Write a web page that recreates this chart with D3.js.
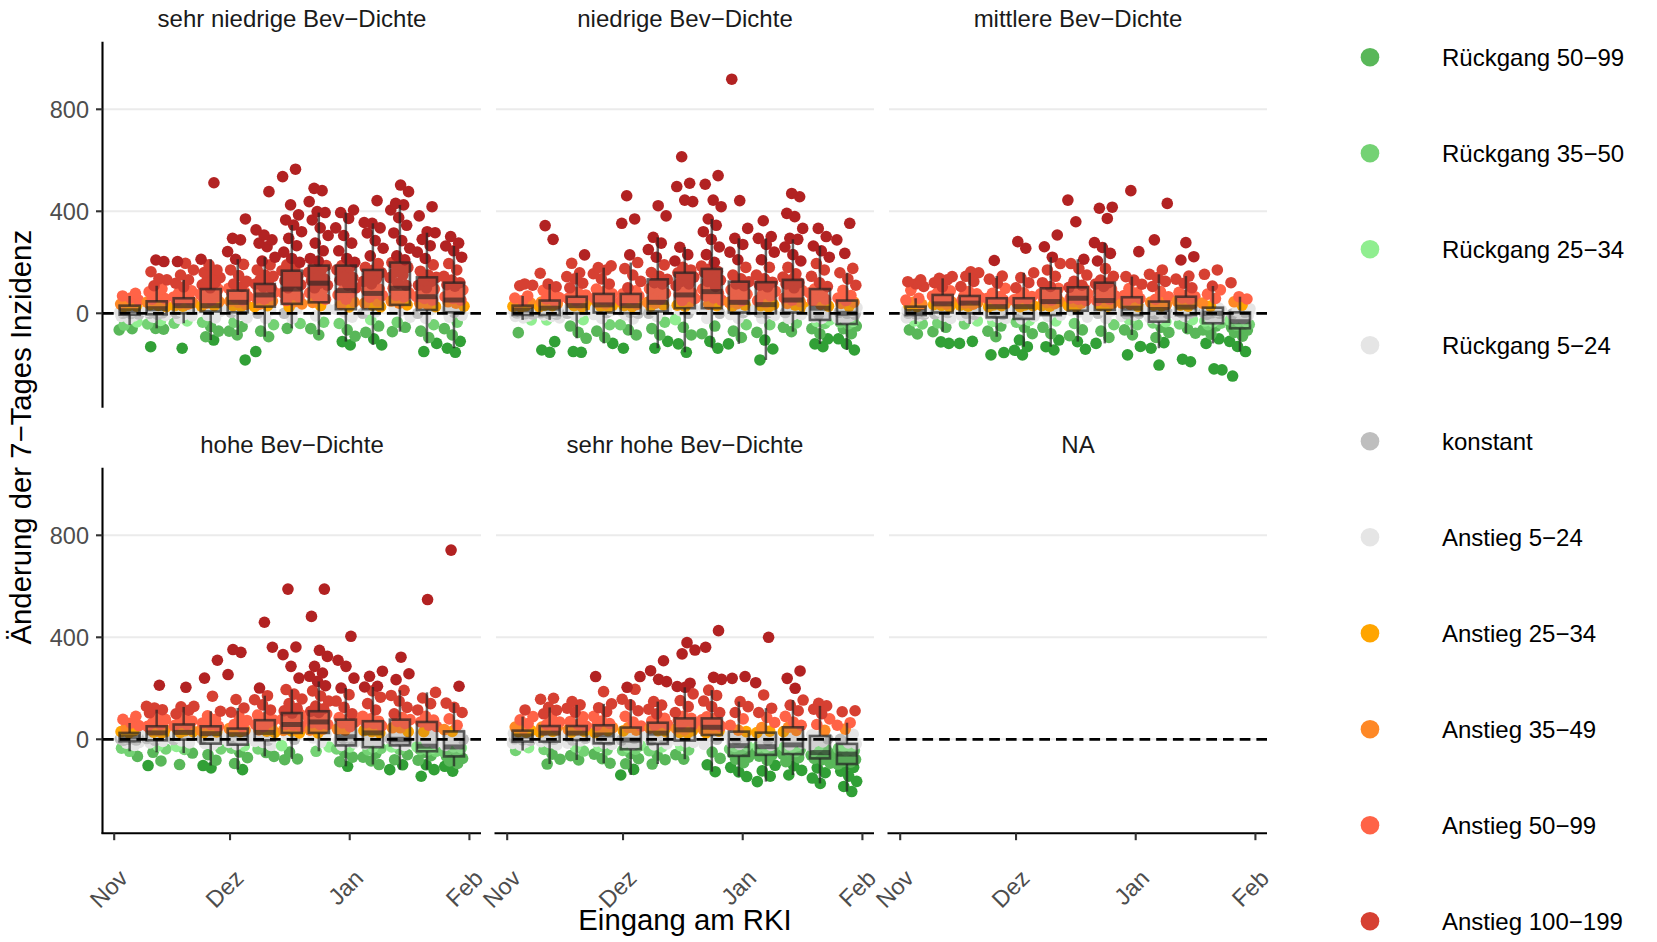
<!DOCTYPE html>
<html><head><meta charset="utf-8">
<script src="https://cdn.jsdelivr.net/npm/d3@7"></script>
<style>
body{margin:0;background:#fff}
svg{display:block}
text{font-family:"Liberation Sans",Arial,Helvetica,sans-serif}
</style>
</head><body>
<svg id="chart" width="1657" height="942"></svg>
<script>
// ---------------- data ----------------
const facetNames = ["sehr niedrige Bev\u2212Dichte","niedrige Bev\u2212Dichte","mittlere Bev\u2212Dichte",
                    "hohe Bev\u2212Dichte","sehr hohe Bev\u2212Dichte","NA"];
const weeks = ["2020-11-05","2020-11-12","2020-11-19","2020-11-26","2020-12-03","2020-12-10","2020-12-17",
               "2020-12-24","2020-12-31","2021-01-07","2021-01-14","2021-01-21","2021-01-28"];
const xTickDates = ["2020-11-01","2020-12-01","2021-01-01","2021-02-01"];
const xTickLabels = ["Nov","Dez","Jan","Feb"];
const yTicks = [0, 400, 800];
const legendLabels = ["R\u00fcckgang 50\u221299","R\u00fcckgang 35\u221250","R\u00fcckgang 25\u221234","R\u00fcckgang 5\u221224",
                      "konstant","Anstieg 5\u221224","Anstieg 25\u221234","Anstieg 35\u221249","Anstieg 50\u221299","Anstieg 100\u2212199"];
const legendColors = ["#59b759","#74d274","#90ee90","#e5e5e5","#bebebe","#e5e5e5","#ffa500","#fe8826","#ff6347","#d64032"];
// class borders of the change (Rückgang < 0 < Anstieg)
const classBreaks = [-99.5,-49.5,-34.5,-24.5,-4.5,4.5,24.5,34.5,49.5,99.5,199.5];
const classColors = ["#31a036","#59b759","#74d274","#90ee90","#e5e5e5","#bebebe","#e5e5e5","#ffa500","#fe8826","#ff6347","#d64032","#b22222"];

// box stats per week: [lower whisker, q1, median, q3, upper whisker]
const boxSehrNiedrig = [[-46,-6,10,30,68],[-59,-4,18,47,108],[-39,0,30,59,131],[-105,7,30,95,212],[-85,4,43,89,212],
  [-92,26,72,115,220],[-59,37,95,167,346],[-85,43,118,187,395],[-111,16,89,187,395],[-124,16,78,170,353],
  [-72,33,98,199,425],[-118,13,65,141,316],[-137,4,52,120,264]];
const boxNiedrig = [[-26,-7,13,30,68],[-26,-7,20,50,115],[-98,0,30,65,159],[-118,3,33,76,179],[-85,0,30,76,199],
  [-137,7,43,133,298],[-153,20,72,159,259],[-137,20,85,174,370],[-120,3,43,124,294],[-183,0,34,122,294],
  [-72,3,52,131,290],[-120,-26,20,95,264],[-144,-42,0,50,159]];
const boxMittlere = [[-42,-7,7,26,59],[-72,3,37,72,137],[-42,0,40,68,159],[-92,-16,26,59,146],[-131,-22,26,59,159],
  [-131,-7,46,98,220],[-111,10,59,102,212],[-118,13,50,120,277],[-85,-7,20,63,144],[-137,-33,15,46,153],
  [-78,-7,24,65,146],[-118,-39,0,22,107],[-150,-59,-33,4,65]];
const boxHohe = [[-47,-8,9,25,64],[-51,-4,25,51,116],[-54,-1,27,58,127],[-103,-17,22,51,110],[-119,-21,18,42,123],
  [-67,-4,27,75,171],[-77,25,58,103,195],[-47,25,68,110,227],[-106,-24,10,77,201],[-99,-31,25,71,205],
  [-119,-24,0,77,192],[-119,-47,-27,68,184],[-106,-67,-30,31,142]];
const boxSehrHohe = [[-44,-9,13,34,89],[-97,-9,24,52,125],[-81,-3,24,52,135],[-94,-16,17,55,139],[-140,-39,-3,46,157],
  [-97,-18,24,65,148],[-78,-5,37,82,204],[-127,17,47,82,193],[-146,-65,-25,30,148],[-166,-61,-29,26,122],
  [-140,-58,-22,47,154],[-173,-75,-52,13,131],[-205,-97,-58,-18,65]];

// district values per week
const ptsSehrNiedrig = [
[-65,-60,-46,-34,-22,-12,-6,-3,0,3,6,8,10,12,15,18,22,26,30,36,44,52,60,68,78],
[-131,-62,-59,-42,-28,-14,-4,0,4,8,12,15,18,22,26,31,36,41,47,58,70,84,96,108,131,135,163,203,209],
[-137,-39,-30,-20,-10,0,5,11,17,23,30,36,42,48,54,59,72,88,104,118,131,150,170,196,203],
[-105,-92,-70,-52,-35,-18,7,12,18,24,30,40,52,60,65,75,80,95,112,130,140,150,160,170,190,212,512],
[-183,-85,-70,-52,-35,-18,4,10,18,27,35,43,52,62,72,80,89,105,125,148,170,192,212,242,288,294,370],
[-150,-92,-70,-45,-20,0,12,26,36,48,60,72,82,92,104,115,132,150,170,190,205,220,261,275,288,307,327,477],
[-59,-40,-20,0,18,37,50,64,80,95,112,128,145,167,190,215,240,265,294,320,346,366,386,425,536,565],
[-85,-60,-35,-10,15,43,62,80,100,118,135,152,170,187,215,245,275,305,335,366,395,399,438,481,490],
[-124,-111,-90,-65,-40,-15,16,35,55,72,89,110,130,150,170,187,215,245,275,305,335,372,395,405],
[-124,-100,-75,-50,-25,0,16,32,48,63,78,95,115,135,152,170,195,225,255,285,315,335,353,356,442],
[-72,-55,-35,-15,10,33,48,64,80,98,118,140,160,180,199,225,255,285,315,345,375,405,425,431,477,503],
[-150,-118,-95,-70,-45,-20,13,26,39,52,65,80,95,110,125,141,165,190,215,240,265,290,316,320,382,418],
[-153,-137,-110,-85,-60,-35,-15,4,16,28,40,52,65,78,92,106,120,145,170,195,220,245,264,275,301]];
const morePtsSehrNiedrig = [
[-10,-1,4,9,14,20,28,40],[-8,2,10,16,24,34,44,55],[-5,8,20,28,38,50,64,80],[-8,15,28,45,70,88,100,120],
[-5,15,30,48,66,84,98,115],[15,30,55,68,88,100,125,145],[25,45,72,100,120,150,175,200],[30,55,90,110,128,160,180,205],
[5,25,45,80,100,140,180,200],[5,25,40,70,90,125,160,180],[20,40,70,90,110,150,190,210],[0,20,35,58,72,100,130,150],
[-8,10,22,45,58,85,112,130]];
const ptsNiedrig = [
[-76,-26,-18,-12,-7,-3,1,5,9,13,17,21,25,30,40,50,60,68,108,110,115],
[-153,-144,-111,-26,-18,-12,-7,-1,5,10,15,20,26,32,38,44,50,62,76,90,104,115,157,290,344],
[-153,-150,-98,-75,-50,-25,0,8,15,22,30,37,44,51,58,65,82,100,118,135,144,159,196,229],
[-118,-95,-70,-45,-20,3,10,18,25,33,42,51,60,68,76,95,115,135,155,170,179,186],
[-137,-85,-65,-45,-22,0,8,15,22,30,40,50,60,68,76,100,125,150,175,199,229,353,370,461],
[-137,-110,-85,-60,-35,-12,7,15,24,33,43,60,78,96,115,133,160,190,220,250,275,298,382,422],
[-153,-120,-85,-55,-25,0,20,32,45,58,72,90,108,125,142,159,180,205,230,259,438,444,497,510,614],
[-137,-110,-80,-50,-20,0,20,36,52,68,85,105,125,145,160,174,200,230,260,290,320,345,370,418,444,506,540],
[-120,-95,-70,-45,-20,3,12,22,32,43,58,75,92,108,124,150,180,210,240,270,294,333,442,918],
[-183,-140,-105,-75,-45,-20,0,8,16,25,34,50,68,86,104,122,150,180,210,240,270,294,301,363],
[-72,-55,-38,-20,-5,3,14,26,39,52,68,84,100,115,131,155,180,205,230,260,290,294,333,379,392,457,470],
[-131,-120,-100,-80,-60,-40,-26,-15,-4,8,20,35,50,65,80,95,120,145,170,195,220,245,264,301,333],
[-144,-120,-100,-80,-60,-42,-32,-22,-12,-4,0,8,18,28,39,50,70,90,110,135,159,176,235,288,353]];
const morePtsNiedrig = [
[-10,-2,3,8,14,19,27,35],[-4,2,8,14,22,30,40,56],[-8,5,12,26,34,48,60,72],[-5,6,14,28,38,55,72,85],
[-6,4,12,26,35,55,70,88],[0,12,28,40,55,90,120,145],[10,28,50,66,80,115,150,170],[10,30,60,78,95,130,165,185],
[-5,8,28,38,50,85,115,135],[-8,4,20,30,42,75,110,135],[-5,10,32,46,60,90,120,142],[-32,-20,-8,14,28,55,85,105],
[-50,-36,-18,-6,4,22,44,60]];
const ptsMittlere = [
[-81,-65,-42,-30,-18,-7,-3,0,3,7,11,15,19,22,26,35,44,52,59,90,105,115,124,131],
[-118,-112,-72,-55,-38,-20,-8,3,10,18,25,31,37,45,52,58,65,72,88,104,120,131,137,144],
[-118,-110,-42,-30,-18,-8,0,8,16,24,32,40,46,52,58,63,68,85,105,125,145,159,163],
[-163,-154,-92,-70,-50,-32,-16,-8,0,8,14,20,26,33,40,46,53,59,78,98,118,134,146,207],
[-163,-145,-131,-105,-80,-55,-35,-22,-12,-2,8,17,26,33,40,47,53,59,80,100,120,140,159,255,281],
[-144,-131,-105,-80,-55,-30,-7,5,17,28,38,46,56,66,76,87,98,120,145,170,195,220,261,307],
[-141,-111,-88,-65,-40,-15,10,20,30,40,50,59,68,76,85,94,102,125,150,175,195,212,359,444],
[-118,-95,-70,-45,-20,0,13,22,31,40,50,62,75,90,105,120,145,175,205,235,258,277,372,412,416],
[-163,-130,-85,-65,-45,-25,-7,-2,4,10,15,20,27,35,43,52,63,80,97,114,130,144,242,481],
[-203,-137,-115,-95,-75,-55,-33,-22,-12,-3,6,15,22,29,35,41,46,65,85,105,125,140,153,170,288,431],
[-190,-180,-78,-60,-42,-25,-7,0,7,13,19,24,32,40,48,56,65,82,100,118,134,146,209,222,277],
[-222,-218,-118,-100,-82,-65,-50,-39,-30,-22,-14,-7,0,4,8,12,17,22,40,58,75,92,107,153,170],
[-246,-150,-130,-110,-90,-75,-59,-52,-46,-40,-33,-26,-18,-10,-3,4,18,32,45,56,65,120]];
const morePtsMittlere = [
[-10,-4,2,5,9,14,20,30],[-2,8,22,34,42,55,68,80],[-4,12,28,36,44,55,65,76],[-20,-4,10,22,30,42,55,66],
[-28,-6,12,22,30,44,56,66],[-12,10,30,42,52,70,90,105],[5,25,45,55,64,80,96,110],[8,28,45,55,70,95,115,130],
[-12,0,12,18,24,40,58,70],[-38,-18,0,12,18,32,44,55],[-12,3,15,22,28,44,60,72],[-45,-34,-18,-4,2,10,20,28],
[-66,-55,-44,-36,-30,-20,-6,8]];
const ptsHohe = [
[-67,-47,-35,-24,-15,-8,-4,0,3,6,9,12,15,18,21,25,34,44,54,64,78,90],
[-103,-85,-51,-38,-26,-14,-4,3,10,17,25,31,37,44,51,64,78,92,104,116,123,129,212],
[-99,-54,-40,-28,-14,-1,6,13,20,27,34,41,48,58,72,86,100,114,127,129,204],
[-112,-103,-82,-60,-38,-17,-8,2,12,22,29,36,43,51,64,78,92,110,169,240,310],
[-119,-95,-72,-50,-35,-21,-12,-3,8,18,24,30,36,42,58,74,90,106,123,156,254,341,352],
[-67,-52,-38,-24,-12,-4,5,13,20,27,37,47,57,66,75,95,115,135,155,171,201,361,459],
[-80,-77,-50,-25,0,25,33,41,50,58,68,78,88,103,122,140,158,177,195,240,286,332,362,589],
[-47,-30,-12,5,25,36,47,58,68,78,88,99,110,130,150,170,190,210,227,247,260,286,325,349,482,589],
[-106,-88,-70,-52,-38,-24,-14,-5,3,10,22,36,50,64,77,100,125,150,175,201,240,286,310,404],
[-99,-85,-70,-55,-42,-31,-18,-5,10,25,34,44,53,62,71,90,115,140,165,190,205,208,247,267],
[-119,-100,-80,-60,-40,-24,-16,-10,-5,0,15,30,45,62,77,100,125,150,172,192,234,257,322],
[-145,-119,-100,-82,-64,-47,-40,-34,-30,-27,-8,12,30,50,68,90,115,140,162,184,548],
[-125,-106,-95,-85,-75,-67,-58,-48,-40,-30,-18,-5,8,20,31,55,80,105,125,142,208,742]];
const morePtsHohe = [
[-12,-3,2,7,11,16,22,30],[-8,5,14,22,28,36,48,58],[-6,8,16,24,30,40,54,64],[-22,-5,8,18,26,36,48,58],
[-26,-8,5,14,22,32,40,50],[-8,6,18,24,32,50,70,85],[18,35,48,55,62,80,98,112],[20,40,58,65,74,92,105,120],
[-30,-10,2,8,14,40,68,85],[-36,-12,10,20,30,48,65,80],[-30,-12,-4,2,20,45,70,85],[-52,-42,-32,-25,-15,20,55,75],
[-72,-60,-44,-34,-24,0,24,38]];
const ptsSehrHohe = [
[-44,-33,-24,-16,-9,-4,2,7,13,18,23,28,34,48,62,76,89,115],
[-97,-78,-58,-40,-22,-9,0,8,16,24,31,38,45,52,68,84,100,114,125,157,161],
[-81,-64,-46,-30,-15,-3,4,11,18,24,31,38,45,52,70,88,106,122,135,148],
[-94,-76,-58,-42,-28,-16,-8,1,9,17,26,36,46,55,72,90,108,124,139,187,246],
[-140,-118,-96,-76,-56,-39,-30,-20,-11,-3,8,20,33,46,68,90,112,135,157,196,204,246],
[-97,-80,-62,-45,-30,-18,-8,3,14,24,34,44,55,65,82,100,118,134,148,226,235,269,308],
[-78,-60,-42,-25,-12,-5,6,16,27,37,48,60,71,82,105,128,152,178,204,207,220,335,350,379],
[-127,-100,-75,-50,-20,0,17,25,32,40,47,56,65,74,82,105,128,150,172,193,235,243,361,426],
[-146,-128,-110,-92,-78,-65,-55,-45,-35,-25,-12,0,10,20,30,55,80,105,128,148,239,246],
[-166,-145,-124,-102,-82,-61,-52,-44,-36,-29,-16,-4,8,17,26,46,66,86,105,122,174,222,400],
[-140,-122,-104,-88,-72,-58,-48,-39,-30,-22,-8,7,22,35,47,68,90,112,134,154,200,239,268],
[-173,-152,-131,-112,-94,-75,-68,-62,-57,-52,-38,-24,-10,2,13,35,58,80,100,118,131,141],
[-205,-185,-165,-145,-125,-110,-97,-88,-79,-70,-62,-58,-52,-44,-36,-27,-18,0,20,40,55,65,108,112]];
const morePtsSehrHohe = [
[-12,-2,5,10,15,22,30,40],[-12,2,14,20,28,38,48,58],[-6,6,16,22,28,38,48,58],[-20,-4,6,14,22,34,48,62],
[-44,-25,-12,-6,4,18,36,52],[-22,-4,12,20,30,44,58,72],[-10,10,25,34,42,60,76,90],[12,22,36,44,52,62,76,88],
[-70,-50,-38,-28,-20,-5,16,36],[-66,-50,-40,-32,-24,-10,12,32],[-62,-44,-32,-25,-15,5,30,55],[-80,-70,-60,-54,-48,-30,-8,18],
[-104,-90,-76,-64,-55,-44,-30,-14]];

const facetBoxes = [boxSehrNiedrig, boxNiedrig, boxMittlere, boxHohe, boxSehrHohe, null];
const facetPoints = [ptsSehrNiedrig, ptsNiedrig, ptsMittlere, ptsHohe, ptsSehrHohe, null];
const facetMorePoints = [morePtsSehrNiedrig, morePtsNiedrig, morePtsMittlere, morePtsHohe, morePtsSehrHohe, null];

// ---------------- layout ----------------
const svg = d3.select("#chart");
svg.append("rect").attr("width",1657).attr("height",942).attr("fill","#fff");
const PW = 378, PH = 365;
const colX = [103, 496, 889];
const rowY = [41.7, 467.7];
const DAY = 864e5;
const parse = d3.utcParse("%Y-%m-%d");
const x = d3.scaleUtc()
  .domain([new Date(Date.UTC(2020,9,29,2,24)), new Date(Date.UTC(2021,1,4,0,0))])
  .range([0, PW]);
const y = d3.scaleLinear().domain([-366.3, 1065.1]).range([PH, 0]);
const color = d3.scaleThreshold().domain(classBreaks).range(classColors);
const FONT_A = 23.5, FONT_S = 24, FONT_T = 29.3;

const weekDates = weeks.map(parse);
const tickDates = xTickDates.map(parse);

facetNames.forEach((name, k) => {
  const col = k % 3, row = Math.floor(k / 3);
  const g = svg.append("g").attr("transform", `translate(${colX[col]},${rowY[row]})`);

  // grid
  g.selectAll(".grid").data(yTicks).join("line")
    .attr("x1", 0).attr("x2", PW)
    .attr("y1", d => y(d)).attr("y2", d => y(d))
    .attr("stroke", "#ebebeb").attr("stroke-width", 2);

  const pts = facetPoints[k], boxes = facetBoxes[k], more = facetMorePoints[k];
  if (pts) {
    // jittered district points
    const flat = [];
    pts.forEach((vals, i) => {
      const all = vals.concat(more[i]).sort((a, b) => a - b);
      all.forEach((v, j) => {
        const u = ((j * 0.618034 + i * 0.2137 + k * 0.2913) % 1) * 2 - 1;
        flat.push({date: new Date(+weekDates[i] + u * 2.7 * DAY), v});
      });
    });
    g.append("g").selectAll("circle").data(flat).join("circle")
      .attr("cx", d => x(d.date)).attr("cy", d => y(d.v)).attr("r", 5.8)
      .attr("fill", d => color(d.v));

    // boxplots
    const bg = g.append("g");
    boxes.forEach((b, i) => {
      const [lo, q1, med, q3, hi] = b;
      const cx = x(weekDates[i]);
      const x0 = x(new Date(+weekDates[i] - 2.6 * DAY)), x1 = x(new Date(+weekDates[i] + 2.6 * DAY));
      const sc = "#222", so = 0.7;
      bg.append("line").attr("x1", cx).attr("x2", cx).attr("y1", y(q3)).attr("y2", y(hi))
        .attr("stroke", sc).attr("stroke-opacity", so).attr("stroke-width", 2.5);
      bg.append("line").attr("x1", cx).attr("x2", cx).attr("y1", y(q1)).attr("y2", y(lo))
        .attr("stroke", sc).attr("stroke-opacity", so).attr("stroke-width", 2.5);
      bg.append("rect").attr("x", x0).attr("y", y(q3)).attr("width", x1 - x0).attr("height", y(q1) - y(q3))
        .attr("fill", "#555").attr("fill-opacity", 0.14)
        .attr("stroke", sc).attr("stroke-opacity", so).attr("stroke-width", 2.6);
      bg.append("line").attr("x1", x0).attr("x2", x1).attr("y1", y(med)).attr("y2", y(med))
        .attr("stroke", sc).attr("stroke-opacity", 0.6).attr("stroke-width", 5);
    });
  }

  // dashed zero line
  g.append("line").attr("x1", 0).attr("x2", PW).attr("y1", y(0)).attr("y2", y(0))
    .attr("stroke", "#000").attr("stroke-width", 2.7).attr("stroke-dasharray", "10.7,6");

  // strip title
  svg.append("text").attr("x", colX[col] + PW / 2).attr("y", rowY[row] - 15)
    .attr("text-anchor", "middle").attr("font-size", FONT_S).attr("fill", "#1a1a1a").text(name);

  // y axis on first column
  if (col === 0) {
    g.append("line").attr("x1", -0.5).attr("x2", -0.5).attr("y1", 0).attr("y2", PH + 1)
      .attr("stroke", "#000").attr("stroke-width", 2.1);
    g.selectAll(".yt").data(yTicks).join("line")
      .attr("x1", -7).attr("x2", -0.5).attr("y1", d => y(d)).attr("y2", d => y(d))
      .attr("stroke", "#333").attr("stroke-width", 2.1);
    g.selectAll(".yl").data(yTicks).join("text")
      .attr("x", -14).attr("y", d => y(d)).attr("dy", "0.36em")
      .attr("text-anchor", "end").attr("font-size", FONT_A).attr("fill", "#4d4d4d")
      .text(d => d3.format("d")(d));
  }
  // x axis on bottom row
  if (row === 1) {
    g.append("line").attr("x1", -1.5).attr("x2", PW).attr("y1", PH + 0.5).attr("y2", PH + 0.5)
      .attr("stroke", "#000").attr("stroke-width", 2.1);
    g.selectAll(".xt").data(tickDates).join("line")
      .attr("x1", d => x(d)).attr("x2", d => x(d)).attr("y1", PH + 0.5).attr("y2", PH + 7.5)
      .attr("stroke", "#333").attr("stroke-width", 2.1);
    g.selectAll(".xl").data(tickDates).join("text")
      .attr("transform", d => `translate(${x(d) + 15},${PH + 47}) rotate(-45)`)
      .attr("text-anchor", "end").attr("font-size", FONT_A).attr("fill", "#4d4d4d")
      .text((d, i) => xTickLabels[i]);
  }
});

// axis titles
svg.append("text").attr("x", (colX[0] + colX[2] + PW) / 2).attr("y", 930)
  .attr("text-anchor", "middle").attr("font-size", FONT_T).attr("fill", "#000").text("Eingang am RKI");
svg.append("text").attr("transform", `translate(31,${(rowY[0] + rowY[1] + PH) / 2}) rotate(-90)`)
  .attr("text-anchor", "middle").attr("font-size", FONT_T).attr("fill", "#000")
  .text("\u00c4nderung der 7\u2212Tages Inzidenz");

// legend
const lg = svg.append("g");
legendLabels.forEach((lab, i) => {
  const ly = 57.2 + i * 96;
  lg.append("circle").attr("cx", 1370).attr("cy", ly).attr("r", 9.3).attr("fill", legendColors[i]);
  lg.append("text").attr("x", 1442).attr("y", ly).attr("dy", "0.36em")
    .attr("font-size", FONT_S).attr("fill", "#000").text(lab);
});
</script>
</body></html>
